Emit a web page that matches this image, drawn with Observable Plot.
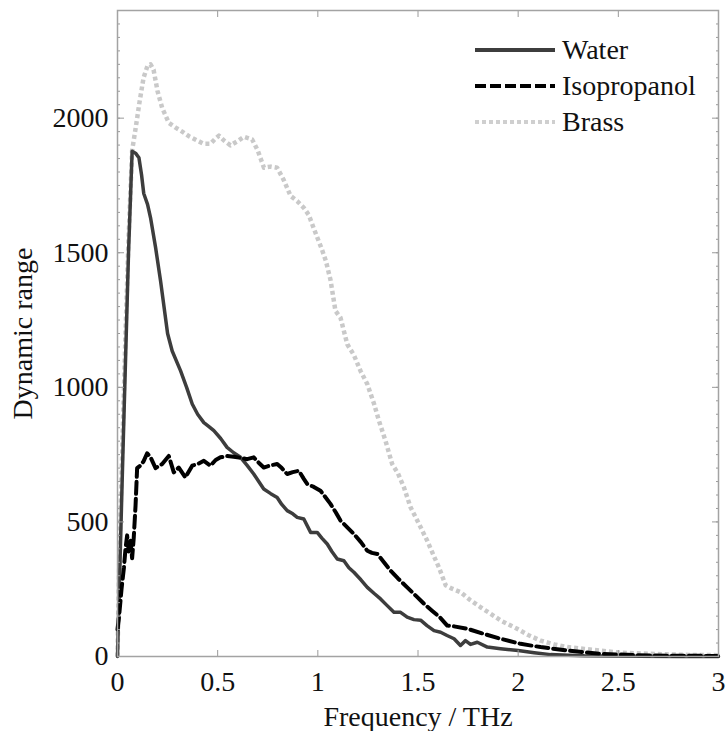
<!DOCTYPE html>
<html>
<head>
<meta charset="utf-8">
<script src="https://cdn.jsdelivr.net/npm/d3@7"></script>
<script src="https://cdn.jsdelivr.net/npm/@observablehq/plot@0.6"></script>
<style>
  html, body { margin: 0; padding: 0; background: #fff; }
  #wrap { position: relative; width: 727px; height: 731px; font-family: "Liberation Serif", "DejaVu Serif", serif; }
  #legend { position: absolute; left: 0; top: 0; pointer-events: none; }
</style>
</head>
<body>
<div id="wrap"></div>
<script>
// ---- data ----
const seriesNames = ["Water", "Isopropanol", "Brass"];

const waterF = [0, 0.01, 0.025, 0.04, 0.055, 0.073, 0.09, 0.107, 0.12, 0.131, 0.15, 0.165, 0.19, 0.215, 0.25, 0.273, 0.315, 0.345, 0.373, 0.40, 0.431, 0.455, 0.481, 0.515, 0.547, 0.58, 0.614, 0.647, 0.68, 0.705, 0.73, 0.765, 0.797, 0.82, 0.847, 0.875, 0.897, 0.93, 0.964, 0.997, 1.02, 1.047, 1.07, 1.097, 1.13, 1.155, 1.18, 1.215, 1.247, 1.28, 1.313, 1.345, 1.38, 1.413, 1.446, 1.48, 1.513, 1.545, 1.58, 1.613, 1.645, 1.68, 1.712, 1.737, 1.762, 1.796, 1.846, 1.912, 2.0, 2.08, 2.162, 2.25, 2.33, 2.45, 2.6, 2.8, 3.0];
const waterV = [0, 280, 700, 1100, 1500, 1877, 1870, 1853, 1790, 1720, 1680, 1630, 1520, 1395, 1200, 1135, 1061, 1000, 938, 900, 869, 855, 839, 810, 777, 757, 740, 710, 678, 650, 622, 605, 591, 565, 542, 530, 517, 511, 461, 461, 440, 418, 390, 362, 356, 330, 313, 285, 257, 235, 214, 190, 164, 164, 146, 137, 135, 115, 96, 90, 78, 66, 41, 59, 45, 53, 35, 29, 22, 14, 7, 5, 3, 2, 1, 0, 0];

const isoF = [0, 0.008, 0.02, 0.032, 0.04, 0.048, 0.056, 0.065, 0.073, 0.081, 0.09, 0.098, 0.115, 0.13, 0.148, 0.165, 0.19, 0.223, 0.256, 0.281, 0.306, 0.339, 0.373, 0.4, 0.431, 0.464, 0.49, 0.514, 0.547, 0.58, 0.614, 0.647, 0.68, 0.705, 0.73, 0.765, 0.797, 0.82, 0.847, 0.875, 0.905, 0.93, 0.947, 0.98, 1.013, 1.04, 1.063, 1.09, 1.113, 1.147, 1.18, 1.215, 1.247, 1.27, 1.297, 1.33, 1.363, 1.4, 1.446, 1.49, 1.53, 1.57, 1.61, 1.646, 1.68, 1.746, 1.829, 1.912, 2.012, 2.112, 2.245, 2.41, 2.58, 2.75, 3.0];
const isoV = [100, 150, 250, 330, 400, 450, 390, 430, 365, 440, 560, 700, 710, 725, 755, 740, 700, 715, 745, 684, 702, 665, 709, 715, 727, 709, 730, 740, 745, 742, 738, 733, 740, 720, 702, 710, 715, 700, 678, 685, 690, 660, 641, 630, 616, 590, 567, 535, 505, 480, 455, 425, 393, 385, 381, 350, 319, 290, 257, 225, 196, 170, 145, 115, 112, 103, 84, 66, 47, 35, 22, 10, 5, 3, 2];

const brassF = [0, 0.01, 0.025, 0.04, 0.055, 0.073, 0.09, 0.11, 0.13, 0.15, 0.165, 0.18, 0.2, 0.223, 0.256, 0.29, 0.323, 0.356, 0.39, 0.43, 0.464, 0.49, 0.506, 0.535, 0.564, 0.6, 0.631, 0.672, 0.7, 0.731, 0.765, 0.797, 0.83, 0.864, 0.897, 0.93, 0.955, 0.98, 1.02, 1.04, 1.063, 1.088, 1.113, 1.147, 1.18, 1.213, 1.247, 1.28, 1.305, 1.338, 1.371, 1.4, 1.43, 1.463, 1.5, 1.546, 1.575, 1.605, 1.638, 1.67, 1.712, 1.76, 1.812, 1.86, 1.912, 1.995, 2.05, 2.112, 2.18, 2.245, 2.33, 2.41, 2.5, 2.577, 2.66, 2.74, 2.85, 3.0];
const brassV = [0, 400, 800, 1200, 1550, 1880, 1960, 2060, 2150, 2195, 2200, 2180, 2100, 2038, 1983, 1965, 1950, 1933, 1920, 1905, 1905, 1925, 1935, 1915, 1899, 1915, 1931, 1921, 1880, 1816, 1820, 1816, 1770, 1711, 1692, 1667, 1640, 1590, 1513, 1470, 1400, 1284, 1259, 1160, 1120, 1061, 1012, 940, 876, 801, 715, 680, 628, 554, 500, 430, 380, 330, 265, 252, 239, 210, 183, 160, 134, 103, 80, 59, 45, 35, 28, 22, 15, 12, 10, 8, 6, 5];

const xTicks = [0, 0.5, 1, 1.5, 2, 2.5, 3];
const xTickLabels = ["0", "0.5", "1", "1.5", "2", "2.5", "3"];
const yTicks = [0, 500, 1000, 1500, 2000];
const yTickLabels = ["0", "500", "1000", "1500", "2000"];
const yMinorStep = 50;

const toRows = (F, V) => F.map((f, i) => ({f, v: V[i]}));
const water = toRows(waterF, waterV);
const iso = toRows(isoF, isoV);
const brass = toRows(brassF, brassV);
const yMinor = d3.range(0, 2401, yMinorStep);

const tickColor = "#9a9a9a";

const chart = Plot.plot({
  width: 727,
  height: 731,
  marginLeft: 117,
  marginRight: 9,
  marginTop: 10,
  marginBottom: 75,
  style: {fontFamily: "inherit", fontSize: "28px", background: "#fff", color: "#111"},
  x: {domain: [0, 3]},
  y: {domain: [0, 2400]},
  marks: [
    Plot.line(brass, {x: "f", y: "v", stroke: "#c9c9c9", strokeWidth: 4.5, strokeDasharray: "4,3", strokeLinecap: "butt"}),
    Plot.line(water, {x: "f", y: "v", stroke: "#3d3d3d", strokeWidth: 3.5}),
    Plot.line(iso, {x: "f", y: "v", stroke: "#000", strokeWidth: 4, strokeDasharray: "12,5"}),
    Plot.axisY(yMinor, {anchor: "left", tickSize: -3, tickFormat: () => "", stroke: tickColor, label: null}),
    Plot.axisY(yMinor, {anchor: "right", tickSize: -3, tickFormat: () => "", stroke: tickColor, label: null}),
    Plot.axisY(yTicks, {anchor: "left", tickSize: -7, tickFormat: () => "", stroke: tickColor, label: null}),
    Plot.axisY(yTicks, {anchor: "right", tickSize: -7, tickFormat: () => "", stroke: tickColor, label: null}),
    Plot.axisX(xTicks, {anchor: "bottom", tickSize: -6, tickFormat: () => "", stroke: tickColor, label: null}),
    Plot.axisX(xTicks, {anchor: "top", tickSize: -6, tickFormat: () => "", stroke: tickColor, label: null}),
    Plot.axisY(yTicks, {anchor: "left", tickSize: 0, tickPadding: 9, tickFormat: (d) => yTickLabels[yTicks.indexOf(d)],
      fill: "#111", fontSize: 28,
      label: "Dynamic range", labelAnchor: "center", labelOffset: 105, labelArrow: "none"}),
    Plot.axisX(xTicks, {anchor: "bottom", tickSize: 0, tickPadding: 15, tickFormat: (d) => xTickLabels[xTicks.indexOf(d)],
      fill: "#111", fontSize: 28,
      label: "Frequency / THz", labelAnchor: "center", labelOffset: 69, labelArrow: "none"}),
    Plot.frame({stroke: "#a3a3a3", strokeWidth: 1.5})
  ]
});

const wrap = document.getElementById("wrap");
wrap.appendChild(chart);

// legend overlay
const legendItems = [
  {name: seriesNames[0], stroke: "#3d3d3d", width: 4, dash: null},
  {name: seriesNames[1], stroke: "#000", width: 4, dash: "11,4"},
  {name: seriesNames[2], stroke: "#cfcfcf", width: 4, dash: "4,3"}
];
const ns = "http://www.w3.org/2000/svg";
const leg = document.createElementNS(ns, "svg");
leg.setAttribute("id", "legend");
leg.setAttribute("width", 727);
leg.setAttribute("height", 731);
legendItems.forEach((it, i) => {
  const yy = 50 + i * 36;
  const ln = document.createElementNS(ns, "line");
  ln.setAttribute("x1", 475); ln.setAttribute("x2", 555);
  ln.setAttribute("y1", yy); ln.setAttribute("y2", yy);
  ln.setAttribute("stroke", it.stroke);
  ln.setAttribute("stroke-width", it.width);
  if (it.dash) ln.setAttribute("stroke-dasharray", it.dash);
  leg.appendChild(ln);
  const tx = document.createElementNS(ns, "text");
  tx.setAttribute("x", 562); tx.setAttribute("y", yy + 9);
  tx.style.fontFamily = "inherit";
  tx.setAttribute("font-size", "28");
  tx.setAttribute("fill", "#111");
  tx.textContent = it.name;
  leg.appendChild(tx);
});
wrap.appendChild(leg);
</script>
</body>
</html>
